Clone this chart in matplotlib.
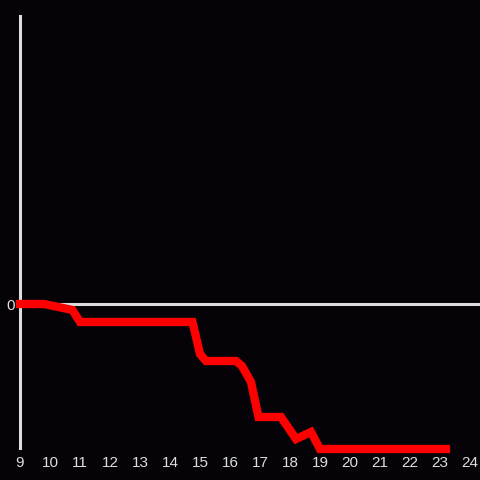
import matplotlib
matplotlib.use("Agg")
import matplotlib.pyplot as plt

hours = [9.0, 9.8, 10.75, 11.0, 14.75, 15.0, 15.2, 16.2, 16.4, 16.7, 16.95, 17.7, 18.2, 18.7, 19.0, 23.2]
values = [0.0, 0.0, -0.6, -1.8, -1.8, -5.0, -5.7, -5.7, -6.2, -7.8, -11.3, -11.3, -13.5, -12.8, -14.5, -14.5]
xticks = list(range(9, 25))
yticks = [0]

bg = "#050307"
fg = "#dddddd"
plt.rcParams['font.family'] = ['Liberation Sans', 'DejaVu Sans']

fig = plt.figure(figsize=(4.8, 4.8), dpi=100, facecolor=bg)
ax = fig.add_axes([20/480, 32/480, 460/480, 432/480], facecolor=bg)
ax.set_xlim(9, 9 + 460/30)
ax.set_ylim(-14.4, 28.8)
ax.axhline(0, color=fg, lw=2.2, zorder=1)
ax.plot(hours, values, color="#ff0000", lw=6, solid_joinstyle='miter',
        solid_capstyle='projecting', clip_on=False, zorder=3)

for s in ['top', 'right', 'bottom']:
    ax.spines[s].set_visible(False)
ax.spines['left'].set_color(fg)
ax.spines['left'].set_linewidth(2.2)
ax.set_xticks(xticks)
ax.set_xticklabels([str(t) for t in xticks])
ax.set_yticks(yticks)
ax.set_yticklabels([str(t) for t in yticks])
ax.tick_params(axis='both', length=0, colors=fg, labelsize=11)
ax.tick_params(axis='x', pad=6)
ax.tick_params(axis='y', pad=4)

fig.savefig("out.png", dpi=100, facecolor=bg)
